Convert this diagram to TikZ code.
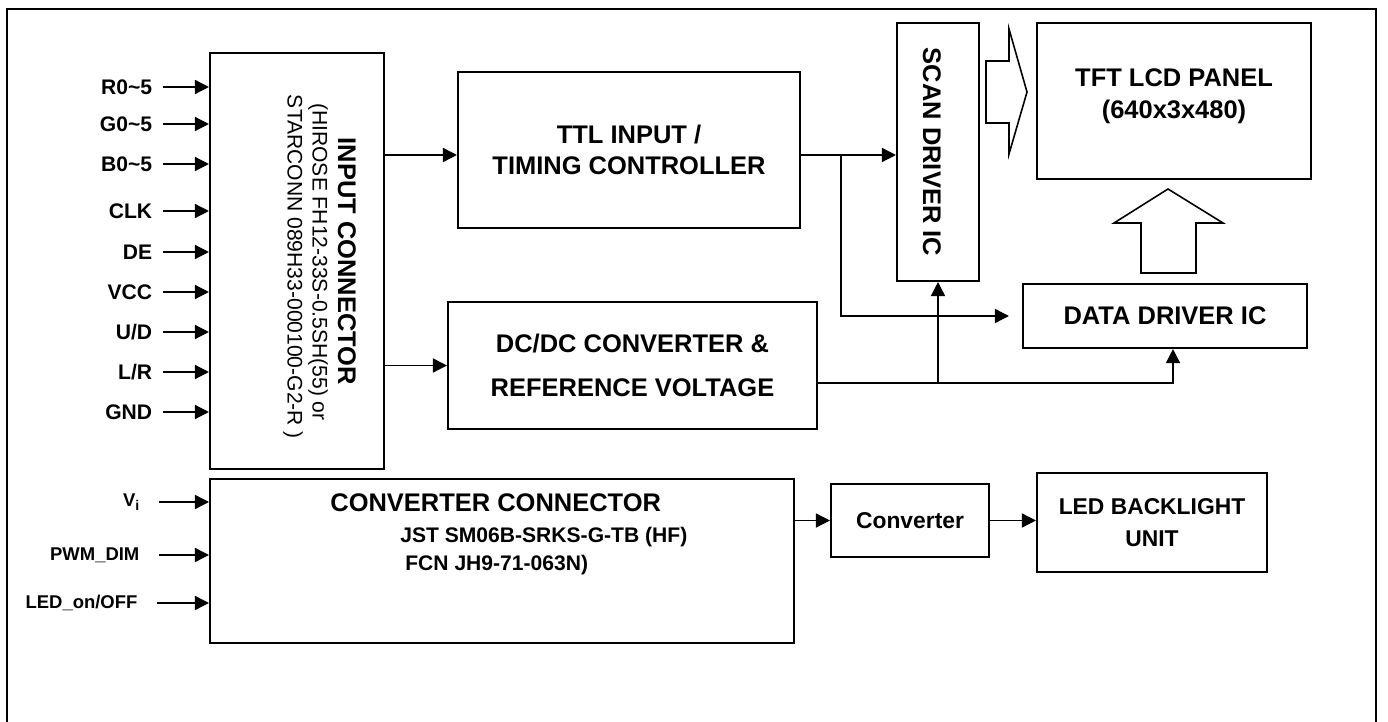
\documentclass[tikz,border=0pt]{standalone}
\usepackage{fontspec}
\setmainfont{Liberation Sans}
\usetikzlibrary{arrows.meta,positioning,calc}

\begin{document}
\begin{tikzpicture}[x=0.02cm, y=-0.02cm, >={Triangle[length=8pt,width=8pt]},
  blk/.style={draw, line width=1.2pt, inner sep=0pt, align=center, font=\bfseries\fontsize{14.5}{18}\selectfont},
  sig/.style={anchor=east, inner xsep=6pt, font=\bfseries\fontsize{12}{14}\selectfont},
  sigs/.style={anchor=east, inner xsep=11pt, font=\bfseries\fontsize{10.5}{12}\selectfont},
  vtxt/.style={rotate=-90, inner sep=0pt},
  wire/.style={line width=0.8pt},
  hollow/.style={draw, line width=0.9pt, line join=miter}]
\useasboundingbox (0,0) rectangle (1388,722);
\draw[line width=0.7pt] (7,740) -- (7,9) -- (1376,9) -- (1376,740);

% connectors and blocks
\node[blk, minimum width=3.48cm, minimum height=8.32cm] (inconn) at (297,261) {};
\node[vtxt, font=\bfseries\fontsize{14.5}{18}\selectfont] (inconnt) at (347,261.5) {INPUT CONNECTOR};
\node[vtxt, font=\fontsize{12}{14}\selectfont] (inconnh) at (318,262) {(HIROSE FH12-33S-0.5SH(55) or};
\node[vtxt, font=\fontsize{12}{14}\selectfont] (inconns) at (293,267) {STARCONN 089H33-000100-G2-R )};

\node[blk, minimum width=6.84cm, minimum height=3.12cm] (ttl) at (629,150) {TTL INPUT /\\TIMING CONTROLLER};
\node[blk, minimum width=7.38cm, minimum height=2.54cm] (dcdc) at (632.5,365.5) {DC/DC CONVERTER \&\\[7pt]REFERENCE VOLTAGE};
\node[blk, minimum width=1.64cm, minimum height=5.16cm] (scan) at (938,152) {};
\node[vtxt, font=\bfseries\fontsize{14.5}{18}\selectfont] (scant) at (932,152) {SCAN DRIVER IC};
\node[blk, minimum width=5.48cm, minimum height=3.12cm] (panel) at (1174,101) {};
\node[align=center, inner sep=0pt, font=\bfseries\fontsize{14.5}{18}\selectfont] (panelt) at (1174,96) {TFT LCD PANEL\\(640x3x480)};
\node[blk, minimum width=5.68cm, minimum height=1.28cm] (data) at (1165,316) {DATA DRIVER IC};

\node[blk, minimum width=11.68cm, minimum height=3.28cm] (cvconn) at (502,561) {};
\node[anchor=west, inner sep=0pt, font=\bfseries\fontsize{14.5}{18}\selectfont] (cvconnt) at (330,503) {CONVERTER CONNECTOR};
\node[anchor=west, inner sep=0pt, font=\bfseries\fontsize{12}{14}\selectfont] (cvconnj) at (400,537) {JST SM06B-SRKS-G-TB (HF)};
\node[anchor=west, inner sep=0pt, font=\bfseries\fontsize{12}{14}\selectfont] (cvconnf) at (405,565) {FCN JH9-71-063N)};
\node[blk, minimum width=3.16cm, minimum height=1.46cm, font=\bfseries\fontsize{13}{16}\selectfont] (conv) at (910,520.5) {Converter};
\node[blk, minimum width=4.6cm, minimum height=1.98cm, font=\bfseries\fontsize{13}{18}\selectfont] (led) at (1152,522.5) {LED BACKLIGHT\\UNIT};

% input signals
\node[sig] (rin) at (163,87) {R0\textasciitilde5};
\node[sig] (gin) at (163,124) {G0\textasciitilde5};
\node[sig] (bin) at (163,164) {B0\textasciitilde5};
\node[sig] (clkin) at (163,211) {CLK};
\node[sig] (dein) at (163,252) {DE};
\node[sig] (vccin) at (163,292) {VCC};
\node[sig] (udin) at (163,332) {U/D};
\node[sig] (lrin) at (163,372) {L/R};
\node[sig] (gndin) at (163,412) {GND};
\draw[->,wire] (rin) -- (rin -| inconn.west);
\draw[->,wire] (gin) -- (gin -| inconn.west);
\draw[->,wire] (bin) -- (bin -| inconn.west);
\draw[->,wire] (clkin) -- (clkin -| inconn.west);
\draw[->,wire] (dein) -- (dein -| inconn.west);
\draw[->,wire] (vccin) -- (vccin -| inconn.west);
\draw[->,wire] (udin) -- (udin -| inconn.west);
\draw[->,wire] (lrin) -- (lrin -| inconn.west);
\draw[->,wire] (gndin) -- (gndin -| inconn.west);

\node[sigs] (viin) at (159,502) {V{\fontsize{8}{8}\selectfont\raisebox{-2.5pt}{i}}};
\node[sigs] (pwmin) at (159,555) {PWM\_DIM};
\node[sigs] (ledonin) at (157,603) {LED\_on/OFF};
\draw[->,wire] (viin) -- (viin -| cvconn.west);
\draw[->,wire] (pwmin) -- (pwmin -| cvconn.west);
\draw[->,wire] (ledonin) -- (ledonin -| cvconn.west);

% signal paths
\coordinate (ttlout) at ([yshift=-0.1cm]ttl.east);
\coordinate (split) at ([xshift=0.8cm]ttlout);
\coordinate (dcout) at ([yshift=-0.35cm]dcdc.east);
\draw[->,wire] (ttlout -| inconn.east) -- (ttlout -| ttl.west);
\draw[->,wire] (dcdc.west -| inconn.east) -- (dcdc.west);
\draw[->,wire] (ttlout) -- (ttlout -| scan.west);
\draw[->,wire,shorten >=0.26cm] (split) |- (data.west);
\draw[->,wire] (dcout) -| ([xshift=0.16cm]data.south);
\draw[->,wire] (dcout -| scan.south) -- (scan.south);
\draw[->,wire] (conv.west -| cvconn.east) -- (conv.west);
\draw[->,wire] (conv) -- (conv -| led.west);

% hollow arrows into the panel
\draw[hollow] (986,61) -- (1009,61) -- (1009,29) -- (1027,92) -- (1009,154) -- (1009,123) -- (986,123) -- cycle;
\draw[hollow] (1141,273) -- (1141,223) -- (1114,223) -- (1168,189) -- (1223,223) -- (1196,223) -- (1196,273) -- cycle;
\end{tikzpicture}
\end{document}
